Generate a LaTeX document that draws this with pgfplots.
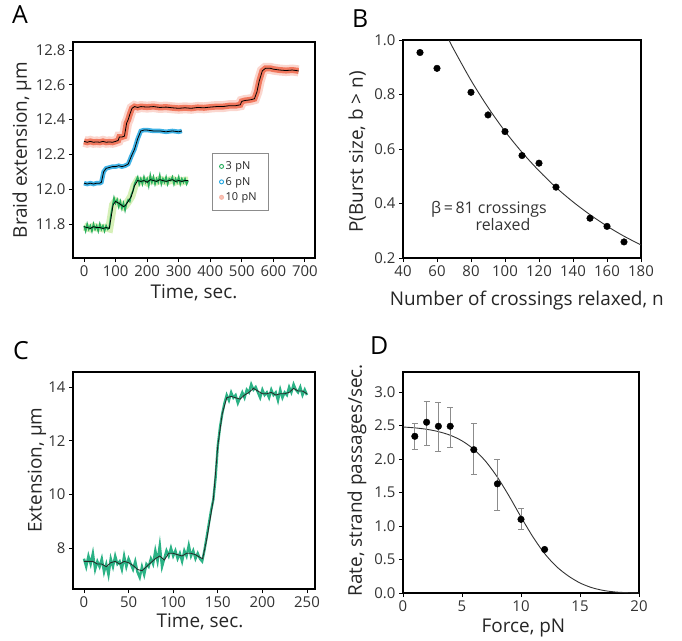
\documentclass[border=0pt]{standalone}
\usepackage{fontspec}
\setmainfont{Open Sans}
\usepackage{pgfplots}
\pgfplotsset{compat=1.18}

\definecolor{trRed}{RGB}{240,105,75}
\definecolor{trBlue}{RGB}{30,165,225}
\definecolor{trGreen}{RGB}{40,175,95}
\definecolor{trTeal}{RGB}{20,170,120}

\pgfplotsset{panel/.style={
  scale only axis,
  axis line style={line width=1.6bp},
  tick style={line width=0.9bp, black},
  tick align=outside, xtick pos=bottom, ytick pos=left,
  major tick length=4bp,
  ticklabel style={font=\fontsize{15}{15}\selectfont, text=black!80},
  label style={font=\fontsize{19}{19}\selectfont, text=black!85},
  /pgf/number format/assume math mode=true,
}}

\begin{document}
\begin{tikzpicture}
\useasboundingbox (0,0) rectangle (682bp,-641bp);

% ---------------- A ----------------
\begin{axis}[panel,
  at={(73bp,-258bp)}, anchor=south west,
  width=242bp, height=216bp,
  xmin=-35, xmax=732, ymin=11.605, ymax=12.846,
  xtick={0,100,...,700}, ytick={11.8,12.0,12.2,12.4,12.6,12.8},
  yticklabel style={/pgf/number format/.cd, fixed, fixed zerofill, precision=1},
  xlabel={Time, sec.}, ylabel={Braid extension, µm},
  xlabel style={at={(axis description cs:0.5,-0.162)}, anchor=center},
  ylabel style={at={(axis description cs:-0.211,0.5)}, anchor=center},
  legend style={at={(0.574,0.486)}, anchor=north west, draw=black!45,
    inner sep=7bp, row sep=3bp,
    nodes={font=\fontsize{11}{11}\selectfont, text=black!85, text width=34bp, inner sep=1.5bp},
    /tikz/every even column/.append style={column sep=5bp}},
  legend cell align=left,
  legend image code/.code={\draw[#1] (0bp,0bp) circle (2bp);},
]
% 10 pN
\addplot[forget plot, trRed!45, opacity=0.6, line width=11bp] coordinates {
(0,12.275)(10,12.27)(20,12.275)(30,12.27)(40,12.272)(50,12.27)(60,12.275)(70,12.27)
(80,12.272)(90,12.27)(100,12.275)(108,12.28)(112,12.30)(120,12.30)(128,12.305)
(135,12.38)(140,12.40)(145,12.43)(152,12.465)(160,12.475)(170,12.47)(180,12.475)
(200,12.472)(220,12.475)(240,12.47)(260,12.472)(280,12.468)(300,12.465)(320,12.468)
(340,12.465)(360,12.47)(380,12.468)(400,12.472)(420,12.475)(440,12.475)(460,12.48)
(480,12.48)(495,12.485)(500,12.505)(510,12.51)(520,12.512)(530,12.515)(540,12.52)
(548,12.56)(555,12.62)(565,12.68)(575,12.695)(590,12.695)(600,12.69)(620,12.685)
(640,12.682)(660,12.685)(680,12.68)};
\addplot[forget plot, trRed, opacity=0.85, line width=6bp] coordinates {
(0,12.275)(10,12.27)(20,12.275)(30,12.27)(40,12.272)(50,12.27)(60,12.275)(70,12.27)
(80,12.272)(90,12.27)(100,12.275)(108,12.28)(112,12.30)(120,12.30)(128,12.305)
(135,12.38)(140,12.40)(145,12.43)(152,12.465)(160,12.475)(170,12.47)(180,12.475)
(200,12.472)(220,12.475)(240,12.47)(260,12.472)(280,12.468)(300,12.465)(320,12.468)
(340,12.465)(360,12.47)(380,12.468)(400,12.472)(420,12.475)(440,12.475)(460,12.48)
(480,12.48)(495,12.485)(500,12.505)(510,12.51)(520,12.512)(530,12.515)(540,12.52)
(548,12.56)(555,12.62)(565,12.68)(575,12.695)(590,12.695)(600,12.69)(620,12.685)
(640,12.682)(660,12.685)(680,12.68)};
\addplot[forget plot, black, line width=0.8bp] coordinates {
(0,12.275)(10,12.27)(20,12.275)(30,12.27)(40,12.272)(50,12.27)(60,12.275)(70,12.27)
(80,12.272)(90,12.27)(100,12.275)(108,12.28)(112,12.30)(120,12.30)(128,12.305)
(135,12.38)(140,12.40)(145,12.43)(152,12.465)(160,12.475)(170,12.47)(180,12.475)
(200,12.472)(220,12.475)(240,12.47)(260,12.472)(280,12.468)(300,12.465)(320,12.468)
(340,12.465)(360,12.47)(380,12.468)(400,12.472)(420,12.475)(440,12.475)(460,12.48)
(480,12.48)(495,12.485)(500,12.505)(510,12.51)(520,12.512)(530,12.515)(540,12.52)
(548,12.56)(555,12.62)(565,12.68)(575,12.695)(590,12.695)(600,12.69)(620,12.685)
(640,12.682)(660,12.685)(680,12.68)};
% 6 pN
\addplot[forget plot, trBlue, opacity=0.85, line width=4.5bp] coordinates {
(0,12.035)(10,12.03)(20,12.035)(30,12.03)(40,12.035)(50,12.035)(55,12.04)(62,12.10)
(70,12.12)(80,12.125)(90,12.13)(100,12.13)(110,12.135)(120,12.13)(130,12.135)
(140,12.145)(150,12.19)(160,12.23)(170,12.29)(180,12.335)(190,12.34)(200,12.34)
(220,12.335)(240,12.335)(260,12.33)(280,12.335)(300,12.33)(310,12.335)};
\addplot[forget plot, black, line width=0.8bp] coordinates {
(0,12.035)(10,12.03)(20,12.035)(30,12.03)(40,12.035)(50,12.035)(55,12.04)(62,12.10)
(70,12.12)(80,12.125)(90,12.13)(100,12.13)(110,12.135)(120,12.13)(130,12.135)
(140,12.145)(150,12.19)(160,12.23)(170,12.29)(180,12.335)(190,12.34)(200,12.34)
(220,12.335)(240,12.335)(260,12.33)(280,12.335)(300,12.33)(310,12.335)};
% 3 pN
\addplot[forget plot, trGreen!55!yellow, opacity=0.35, line width=8bp] coordinates {
(0,11.785)(10,11.78)(20,11.775)(30,11.785)(40,11.78)(50,11.78)(60,11.775)(70,11.78)
(80,11.775)(85,11.83)(92,11.91)(100,11.93)(110,11.92)(118,11.91)(125,11.90)(130,11.905)
(140,11.93)(150,11.96)(160,12.02)(170,12.05)(180,12.045)(190,12.05)(200,12.04)
(210,12.055)(220,12.05)(230,12.045)(240,12.055)(250,12.05)(260,12.045)(270,12.05)
(280,12.055)(290,12.045)(300,12.05)(310,12.045)(320,12.05)(330,12.05)};
\addplot[forget plot, trGreen, line width=1.6bp] coordinates {
(0,11.79)(5,11.76)(10,11.80)(15,11.77)(20,11.79)(25,11.76)(30,11.80)(35,11.77)
(40,11.79)(45,11.76)(50,11.80)(55,11.77)(60,11.79)(65,11.76)(70,11.79)(75,11.77)
(80,11.78)(85,11.85)(90,11.90)(95,11.95)(100,11.92)(105,11.94)(110,11.90)(115,11.93)
(120,11.89)(125,11.92)(130,11.88)(135,11.92)(140,11.94)(145,11.93)(150,11.97)
(155,11.99)(160,12.03)(165,12.05)(170,12.07)(175,12.03)(180,12.06)(185,12.03)
(190,12.07)(195,12.04)(200,12.06)(205,12.02)(210,12.08)(215,12.04)(220,12.07)
(225,12.03)(230,12.06)(235,12.04)(240,12.08)(245,12.03)(250,12.06)(255,12.04)
(260,12.07)(265,12.03)(270,12.06)(275,12.05)(280,12.07)(285,12.03)(290,12.06)
(295,12.04)(300,12.07)(305,12.03)(310,12.06)(315,12.04)(320,12.06)(325,12.03)(330,12.05)};
\addplot[forget plot, black, line width=0.8bp] coordinates {
(0,11.785)(10,11.78)(20,11.775)(30,11.785)(40,11.78)(50,11.78)(60,11.775)(70,11.78)
(80,11.775)(85,11.83)(92,11.91)(100,11.93)(110,11.92)(118,11.91)(125,11.90)(130,11.905)
(140,11.93)(150,11.96)(160,12.02)(170,12.05)(180,12.045)(190,12.05)(200,12.04)
(210,12.055)(220,12.05)(230,12.045)(240,12.055)(250,12.05)(260,12.045)(270,12.05)
(280,12.055)(290,12.045)(300,12.05)(310,12.045)(320,12.05)(330,12.05)};
\addlegendimage{draw=trGreen, line width=0.9bp}
\addlegendimage{draw=trBlue, line width=0.9bp}
\addlegendimage{draw=trRed!50, fill=trRed!40, line width=0.9bp}
\legend{3 pN, 6 pN, 10 pN}
\end{axis}

% ---------------- B ----------------
\begin{axis}[panel,
  at={(403bp,-258bp)}, anchor=south west,
  width=238bp, height=218bp,
  xmin=40, xmax=180, ymin=0.2, ymax=1.0,
  xtick={40,60,...,180}, ytick={0.2,0.4,0.6,0.8,1.0},
  yticklabel style={/pgf/number format/.cd, fixed, fixed zerofill, precision=1},
  xlabel={Number of crossings relaxed, n}, ylabel={P(Burst size, b > n)},
  xlabel style={at={(axis description cs:0.52,-0.195)}, anchor=center},
  ylabel style={at={(axis description cs:-0.193,0.486)}, anchor=center},
]
\addplot[black!80, line width=0.9bp, smooth] coordinates {
(67,1.0)(70,0.964)(80,0.852)(90,0.753)(100,0.665)(110,0.588)(120,0.520)
(130,0.459)(140,0.406)(150,0.359)(160,0.317)(170,0.280)(180,0.248)};
\addplot[only marks, mark=*, mark size=3.3bp, black] coordinates {
(50,0.954)(60,0.896)(80,0.808)(90,0.725)(100,0.664)(110,0.576)(120,0.548)
(130,0.460)(150,0.346)(160,0.316)(170,0.259)};
\node[font=\fontsize{16}{16}\selectfont, text=black!80, align=left, anchor=west] at (axis cs:54.5,0.38)
  {β\,=\,81 crossings};
\node[font=\fontsize{16}{16}\selectfont, text=black!80, anchor=center] at (axis cs:98.8,0.322)
  {relaxed};
\end{axis}

% ---------------- C ----------------
\begin{axis}[panel,
  at={(73bp,-589bp)}, anchor=south west,
  width=242bp, height=217bp,
  xmin=-12.3, xmax=259, ymin=6.47, ymax=14.56,
  xtick={0,50,...,250}, ytick={8,10,12,14},
  xlabel={Time, sec.}, ylabel={Extension, µm},
  xlabel style={at={(axis description cs:0.525,-0.152)}, anchor=center},
  ylabel style={at={(axis description cs:-0.149,0.548)}, anchor=center},
]
\addplot[trTeal, line width=2.4bp, opacity=0.9] coordinates {
(0,7.6)(2.5,7.3)(5,7.7)(7.5,7.4)(10,7.8)(12.5,7.2)(15,7.5)(17.5,7.3)(20,7.6)(22.5,7.1)
(25,7.4)(27.5,7.0)(30,7.6)(32.5,7.3)(35,7.7)(37.5,7.4)(40,7.5)(42.5,7.2)(45,7.7)(47.5,7.3)
(50,7.6)(52.5,7.4)(55,7.2)(57.5,7.5)(60,7.1)(62.5,6.9)(65,7.3)(67.5,7.0)(70,7.4)(72.5,7.3)
(75,7.6)(77.5,7.4)(80,7.9)(82.5,7.5)(85,8.1)(87.5,7.3)(90,7.6)(92.5,7.9)(95,7.7)(97.5,8.0)
(100,7.7)(102.5,7.9)(105,7.6)(107.5,7.8)(110,7.5)(112.5,7.9)(115,7.7)(117.5,8.1)(120,7.7)
(122.5,7.9)(125,7.6)(127.5,7.8)(130,7.6)(132.5,7.5)(135,7.9)(137.5,8.4)(140,8.9)(142.5,9.4)
(145,9.8)(147.5,10.6)(150,11.8)(152.5,12.5)(155,13.0)(157.5,13.4)(160,13.7)(162.5,13.5)
(165,13.8)(167.5,13.6)(170,13.7)(172.5,13.4)(175,13.6)(177.5,13.8)(180,13.6)(182.5,13.9)
(185,13.8)(187.5,14.1)(190,13.9)(192.5,14.0)(195,13.8)(197.5,13.6)(200,13.9)(202.5,13.7)
(205,13.8)(207.5,13.6)(210,13.9)(212.5,13.7)(215,13.8)(217.5,13.5)(220,13.9)(222.5,13.6)
(225,13.8)(227.5,13.7)(230,14.0)(232.5,13.8)(235,14.1)(237.5,13.9)(240,13.8)(242.5,14.0)
(245,13.7)(247.5,13.9)(250,13.7)};
\addplot[black!85, line width=0.8bp] coordinates {
(0,7.5)(5,7.5)(10,7.5)(15,7.4)(20,7.4)(25,7.3)(30,7.45)(35,7.5)(40,7.4)(45,7.5)(50,7.45)
(55,7.35)(60,7.2)(65,7.15)(70,7.3)(75,7.45)(80,7.6)(85,7.7)(90,7.55)(95,7.8)(100,7.8)
(105,7.75)(110,7.7)(115,7.8)(120,7.8)(125,7.75)(130,7.65)(133,7.6)(137.5,8.3)(140,8.8)
(145,9.8)(150,11.8)(155,13.0)(160,13.6)(165,13.65)(170,13.6)(175,13.55)(180,13.7)
(185,13.8)(190,13.95)(195,13.85)(200,13.75)(205,13.75)(210,13.8)(215,13.7)(220,13.75)
(225,13.75)(230,13.8)(235,13.95)(240,13.85)(245,13.85)(250,13.75)};
\end{axis}

% ---------------- D ----------------
\begin{axis}[panel,
  at={(403bp,-593bp)}, anchor=south west,
  width=236bp, height=221bp,
  xmin=0, xmax=20, ymin=0, ymax=3.3,
  xtick={0,5,...,20}, ytick={0,0.5,...,3.0},
  yticklabel style={/pgf/number format/.cd, fixed, fixed zerofill, precision=1},
  xlabel={Force, pN}, ylabel={Rate, strand passages/sec.},
  xlabel style={at={(axis description cs:0.51,-0.158)}, anchor=center},
  ylabel style={at={(axis description cs:-0.195,0.51)}, anchor=center},
]
\addplot[black!80, line width=0.9bp, smooth] coordinates {
(0,2.479)(1,2.466)(2,2.445)(3,2.410)(4,2.356)(5,2.272)(6,2.146)(7,1.967)(8,1.730)
(9,1.444)(10,1.135)(11,0.841)(12,0.589)(13,0.396)(14,0.256)(15,0.150)(16,0.080)
(17,0.038)(18,0.015)(19,0.005)(20,0.0)};
\addplot[only marks, mark=*, mark size=3.3bp, black,
  error bars/.cd, y dir=both, y explicit,
  error bar style={black!45, line width=0.8bp},
  error mark options={rotate=90, mark size=3bp, black!45, line width=0.8bp}]
  table[x=x, y=y, y error plus=ep, y error minus=em] {
x  y    ep   em
1  2.34 0.20 0.19
2  2.55 0.31 0.34
3  2.49 0.35 0.37
4  2.49 0.28 0.31
6  2.14 0.40 0.37
8  1.63 0.36 0.40
10 1.10 0.16 0.15
12 0.65 0    0
};
\end{axis}

% panel letters
\node[font=\fontsize{25}{25}\selectfont, anchor=north west, inner sep=0pt] at (12bp,-5bp) {A};
\node[font=\fontsize{25}{25}\selectfont, anchor=north west, inner sep=0pt] at (352bp,-10bp) {B};
\node[font=\fontsize{25}{25}\selectfont, anchor=north west, inner sep=0pt] at (13bp,-341bp) {C};
\node[font=\fontsize{25}{25}\selectfont, anchor=north west, inner sep=0pt] at (370bp,-337bp) {D};
\end{tikzpicture}
\end{document}
